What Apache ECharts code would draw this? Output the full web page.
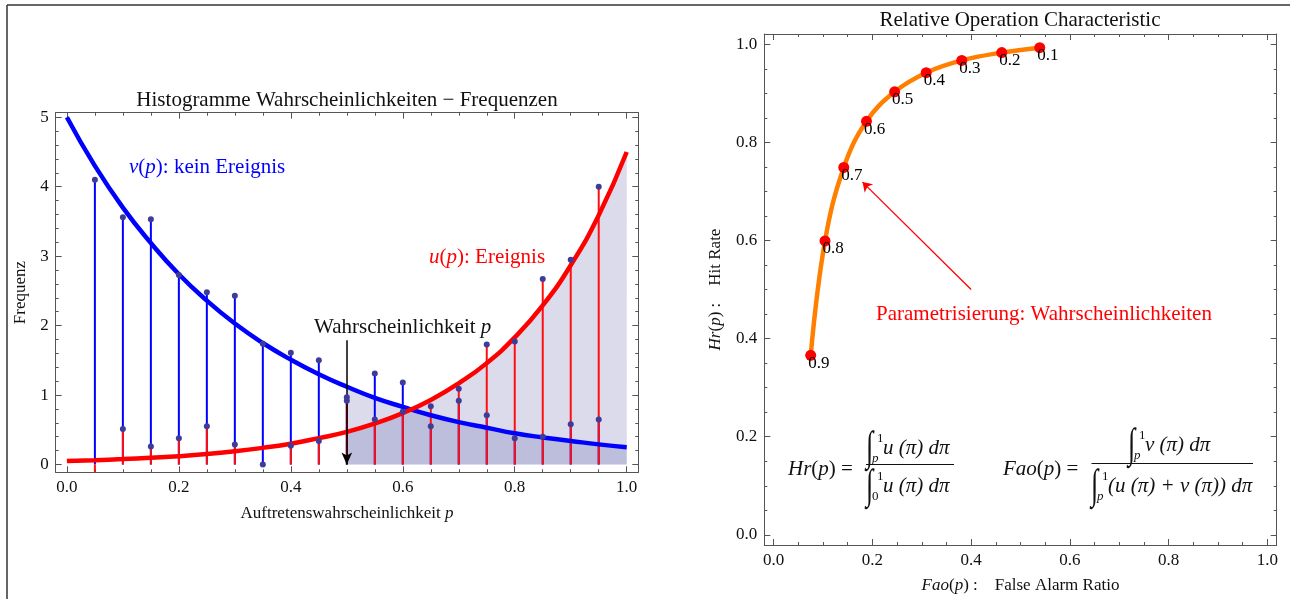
<!DOCTYPE html>
<html>
<head>
<meta charset="utf-8">
<title>Histogramme und ROC</title>
<script src="https://cdn.jsdelivr.net/npm/echarts@6.0.0/dist/echarts.min.js"></script>
<style>
html, body { margin: 0; padding: 0; background: #fff; }
#chart { width: 1290px; height: 599px; }
</style>
</head>
<body>
<div id="chart"></div>
<script>
// --- linkes Bild: Histogramme Wahrscheinlichkeiten - Frequenzen ---
var curveP = [0, 0.05, 0.1, 0.15, 0.2, 0.25, 0.3, 0.35, 0.4, 0.45, 0.5, 0.55, 0.6, 0.65, 0.7, 0.75, 0.8, 0.85, 0.9, 0.95, 1.0];
var vCurve = [5.00, 4.30, 3.70, 3.19, 2.74, 2.36, 2.03, 1.75, 1.51, 1.30, 1.12, 0.96, 0.83, 0.71, 0.61, 0.53, 0.45, 0.39, 0.34, 0.29, 0.25];
var uCurve = [0.05, 0.063, 0.078, 0.098, 0.12, 0.15, 0.19, 0.24, 0.30, 0.38, 0.47, 0.59, 0.74, 0.93, 1.17, 1.46, 1.83, 2.29, 2.87, 3.59, 4.50];
var histP = [0.05, 0.1, 0.15, 0.2, 0.25, 0.3, 0.35, 0.4, 0.45, 0.5, 0.55, 0.6, 0.65, 0.7, 0.75, 0.8, 0.85, 0.9, 0.95];
var vHist = [4.10, 3.56, 3.53, 2.73, 2.48, 2.43, 1.74, 1.61, 1.50, 0.97, 1.31, 1.18, 0.55, 0.92, 0.71, 0.38, 0.40, 0.58, 0.65];
var uHist = [-0.2, 0.51, 0.26, 0.38, 0.55, 0.29, 0.0, 0.27, 0.34, 0.92, 0.65, 0.76, 0.84, 1.09, 1.73, 1.77, 2.67, 2.95, 4.00];
var fillFrom = 0.5;
var histXTicks = [0, 0.2, 0.4, 0.6, 0.8, 1.0];
var histXMinor = [0.05, 0.1, 0.15, 0.25, 0.3, 0.35, 0.45, 0.5, 0.55, 0.65, 0.7, 0.75, 0.85, 0.9, 0.95];
var histYTicks = [0, 1, 2, 3, 4, 5];
var histYMinor = [0.2, 0.4, 0.6, 0.8, 1.2, 1.4, 1.6, 1.8, 2.2, 2.4, 2.6, 2.8, 3.2, 3.4, 3.6, 3.8, 4.2, 4.4, 4.6, 4.8];

// --- rechtes Bild: Relative Operation Characteristic ---
var rocFao = [0.075, 0.104, 0.142, 0.188, 0.245, 0.309, 0.381, 0.462, 0.539];
var rocHr = [0.366, 0.599, 0.749, 0.843, 0.903, 0.942, 0.967, 0.983, 0.993];
var rocLabels = ['0.9', '0.8', '0.7', '0.6', '0.5', '0.4', '0.3', '0.2', '0.1'];
var rocTicks = [0, 0.2, 0.4, 0.6, 0.8, 1.0];
var rocMinor = [0.05, 0.1, 0.15, 0.25, 0.3, 0.35, 0.45, 0.5, 0.55, 0.65, 0.7, 0.75, 0.85, 0.9, 0.95];

var SERIF = '"Liberation Serif", "Times New Roman", "DejaVu Serif", serif';
var frameColor = '#555';
var textColor = '#111';

function richI(size, color) {
  return { i: { fontStyle: 'italic', fontSize: size, fontFamily: SERIF, color: color } };
}

// Rahmen wie in Mathematica: Achse unten/links mit Beschriftung, oben/rechts gespiegelt, Ticks nach innen
function frameAxes(dim, grid, range, majors, minors, fmt, name, nameGap) {
  var pos = dim === 'x' ? ['bottom', 'top'] : ['left', 'right'];
  function axis(p, isMajor, withLabel) {
    var a = {
      type: 'value', gridIndex: grid, position: p, min: range[0], max: range[1],
      splitLine: { show: false },
      axisLine: { show: isMajor, onZero: false, lineStyle: { color: frameColor, width: 1 } },
      axisTick: { show: true, inside: true, length: isMajor ? 6 : 3, customValues: isMajor ? majors : minors, lineStyle: { color: frameColor, width: 1 } },
      axisLabel: { show: false }
    };
    if (withLabel) {
      a.axisLabel = { show: true, customValues: majors, formatter: fmt, margin: 7, color: textColor, fontSize: 17, fontFamily: SERIF };
      a.name = name;
      a.nameLocation = 'middle';
      a.nameGap = nameGap;
      a.nameTextStyle = { color: textColor, fontSize: 17, fontFamily: SERIF, rich: richI(17, textColor) };
    }
    return a;
  }
  return [axis(pos[0], true, true), axis(pos[0], false, false), axis(pos[1], true, false), axis(pos[1], false, false)];
}

function fix1(v) { return v.toFixed(1); }

function stemSeries(values, color, z) {
  return {
    type: 'custom', xAxisIndex: 0, yAxisIndex: 0, z: z, silent: true,
    encode: { x: 0, y: 1 },
    data: histP.map(function (p, i) { return [p, values[i]]; }),
    renderItem: function (params, api) {
      var base = api.coord([api.value(0), 0]);
      var top = api.coord([api.value(0), api.value(1)]);
      var cs = params.coordSys;
      var yTop = Math.min(Math.max(top[1], cs.y), cs.y + cs.height);
      return { type: 'line', shape: { x1: base[0], y1: base[1], x2: top[0], y2: yTop }, style: { stroke: color, lineWidth: 2 } };
    }
  };
}

function pairs(xs, ys) { return xs.map(function (x, i) { return [x, ys[i]]; }); }
function fillPairs(ys) { return pairs(curveP, ys).filter(function (d) { return d[0] >= fillFrom; }); }

function txt(x, y, text, opt) {
  var o = Object.assign({ size: 21, color: textColor, align: 'left', italic: false, family: SERIF }, opt || {});
  return {
    type: 'text', x: x, y: y, silent: true, z: 100, scaleX: o.scaleX || 1, scaleY: o.scaleY || 1,
    style: {
      text: text, fill: o.color, fontSize: o.size, fontFamily: o.family,
      fontStyle: o.italic ? 'italic' : 'normal',
      align: o.align, textAlign: o.align, verticalAlign: 'middle', textVerticalAlign: 'middle',
      rich: richI(o.size, o.color)
    }
  };
}

// Integral mit Grenzen: x0 linke Kante des Integralzeichens, yc Mitte
function integral(x0, yc, upper, lower, lowerItalic, body) {
  return [
    txt(x0, yc + 2, '\u222B', { size: 22, scaleX: 1.2, scaleY: 1.9 }),
    txt(x0 + 11, yc - 8, upper, { size: 13 }),
    txt(x0 + 6, yc + 12, lower, { size: 13, italic: lowerItalic }),
    txt(x0 + 17, yc + 1, body, { italic: true })
  ];
}
function bar(x1, x2, y) {
  return { type: 'line', silent: true, z: 100, shape: { x1: x1, y1: y, x2: x2, y2: y }, style: { stroke: textColor, lineWidth: 1 } };
}

var xAxes = frameAxes('x', 0, [-0.02, 1.0207], histXTicks, histXMinor, fix1, 'Auftretenswahrscheinlichkeit {i|p}', 33)
  .concat(frameAxes('x', 1, [-0.019, 1.019], rocTicks, rocMinor, fix1, '{i|Fao}({i|p}) :    False Alarm Ratio', 32));
var yAxes = frameAxes('y', 0, [-0.112, 5.066], histYTicks, histYMinor, function (v) { return String(v); }, 'Frequenz', 27)
  .concat(frameAxes('y', 1, [-0.0207, 1.0209], rocTicks, rocMinor, fix1, '{i|Hr}({i|p}) :    Hit Rate', 40));

var graphics = [
  { type: 'line', silent: true, shape: { x1: 7, y1: 5, x2: 1290, y2: 5 }, style: { stroke: '#333', lineWidth: 1.5 } },
  { type: 'line', silent: true, shape: { x1: 7, y1: 5, x2: 7, y2: 599 }, style: { stroke: '#333', lineWidth: 1.5 } },
  txt(347, 100, 'Histogramme Wahrscheinlichkeiten \u2212 Frequenzen', { align: 'center' }),
  txt(1020, 20, 'Relative Operation Characteristic', { align: 'center' }),
  txt(129, 167, '{i|v}({i|p}): kein Ereignis', { color: '#0000ff' }),
  txt(429, 257, '{i|u}({i|p}): Ereignis', { color: '#ff0000' }),
  txt(314, 327, 'Wahrscheinlichkeit {i|p}'),
  txt(876, 314, 'Parametrisierung: Wahrscheinlichkeiten', { color: '#ff0000' }),
  txt(788, 469, '{i|Hr}({i|p}) =', {}),
  bar(866, 954, 464.5),
  txt(1003, 469, '{i|Fao}({i|p}) =', {}),
  bar(1091.5, 1253, 463.5)
]
  .concat(integral(866, 447, '1', 'p', true, 'u (\u03C0) d\u03C0'))
  .concat(integral(866, 485, '1', '0', false, 'u (\u03C0) d\u03C0'))
  .concat(integral(1128, 444, '1', 'p', true, 'v (\u03C0) d\u03C0'))
  .concat(integral(1091, 485, '1', 'p', true, '(u (\u03C0) + v (\u03C0)) d\u03C0'));

var chart = echarts.init(document.getElementById('chart'));
chart.setOption({
  backgroundColor: '#fff',
  animation: false,
  grid: [
    { left: 55.7, top: 112.7, width: 582.6, height: 359.6 },
    { left: 764.3, top: 34, width: 512.4, height: 513.5 }
  ],
  xAxis: xAxes,
  yAxis: yAxes,
  graphic: graphics,
  series: [
    // schattierte Flaechen ab p = 0.5
    { type: 'line', xAxisIndex: 0, yAxisIndex: 0, z: 1, silent: true, smooth: true, showSymbol: false,
      data: fillPairs(uCurve), lineStyle: { width: 0, opacity: 0 }, areaStyle: { color: 'rgba(40,40,140,0.17)', opacity: 1, origin: 'auto' } },
    { type: 'line', xAxisIndex: 0, yAxisIndex: 0, z: 1, silent: true, smooth: true, showSymbol: false,
      data: fillPairs(vCurve), lineStyle: { width: 0, opacity: 0 }, areaStyle: { color: 'rgba(40,40,140,0.17)', opacity: 1, origin: 'auto' } },
    stemSeries(vHist, '#0000ff', 2),
    stemSeries(uHist, '#ff1010', 3),
    { type: 'line', xAxisIndex: 0, yAxisIndex: 0, z: 4, silent: true, smooth: true, showSymbol: false,
      data: pairs(curveP, vCurve), lineStyle: { color: '#0000ff', width: 4.5 },
      markLine: {
        silent: true, symbol: ['none', 'arrow'], symbolSize: [8, 12], label: { show: false },
        lineStyle: { color: '#000', width: 1.5, type: 'solid' },
        data: [[{ coord: [0.5, 1.79] }, { coord: [0.5, 0] }]]
      } },
    { type: 'line', xAxisIndex: 0, yAxisIndex: 0, z: 4, silent: true, smooth: true, showSymbol: false,
      data: pairs(curveP, uCurve), lineStyle: { color: '#ff0000', width: 4.5 } },
    { type: 'scatter', xAxisIndex: 0, yAxisIndex: 0, z: 5, silent: true, symbolSize: 6,
      data: pairs(histP, vHist), itemStyle: { color: '#3d3d99', opacity: 1 } },
    { type: 'scatter', xAxisIndex: 0, yAxisIndex: 0, z: 5, silent: true, symbolSize: 6,
      data: pairs(histP, uHist), itemStyle: { color: '#3d3d99', opacity: 1 } },

    // ROC Kurve
    { type: 'line', xAxisIndex: 4, yAxisIndex: 4, z: 3, silent: true, smooth: 0.4, showSymbol: false,
      data: pairs(rocFao, rocHr), lineStyle: { color: '#ff8000', width: 4.5 },
      markLine: {
        silent: true, symbol: ['none', 'arrow'], symbolSize: 9, label: { show: false },
        lineStyle: { color: '#ff0000', width: 1.3, type: 'solid' },
        data: [[{ coord: [0.40, 0.50] }, { coord: [0.18, 0.719] }]]
      } },
    { type: 'scatter', xAxisIndex: 4, yAxisIndex: 4, z: 5, silent: true, symbolSize: 11,
      data: pairs(rocFao, rocHr), itemStyle: { color: '#ff0000', opacity: 1 },
      label: {
        show: true, position: [3, 5], align: 'left', verticalAlign: 'top',
        color: '#000', fontSize: 17, fontFamily: SERIF,
        formatter: function (p) { return rocLabels[p.dataIndex]; }
      } }
  ]
});
</script>
</body>
</html>
